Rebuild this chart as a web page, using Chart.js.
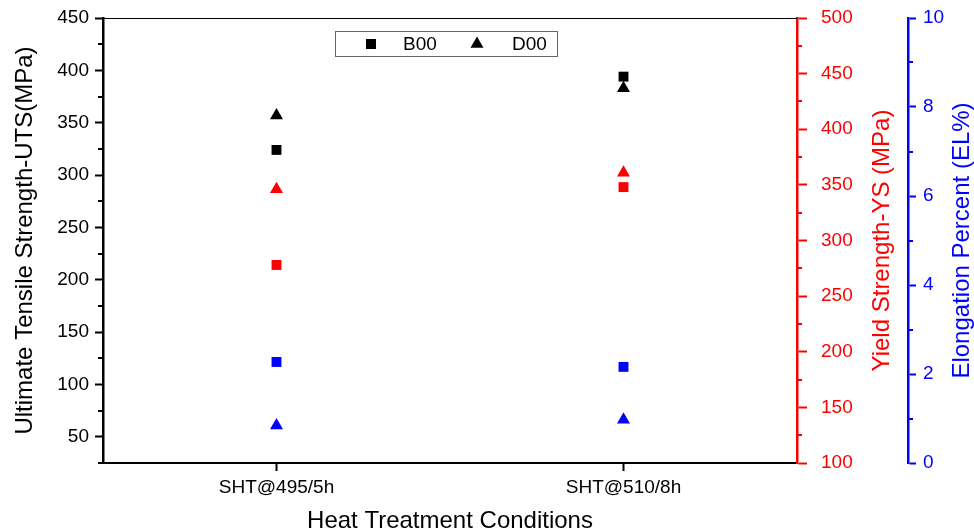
<!DOCTYPE html>
<html><head><meta charset="utf-8">
<script src="https://cdn.jsdelivr.net/npm/chart.js@4"></script>
<style>html,body{margin:0;padding:0;background:#fff}#wrap{width:974px;height:532px}</style>
</head><body><div id="wrap"><canvas id="c" width="974" height="532"></canvas></div>
<script>
const categories = ['SHT@495/5h', 'SHT@510/8h'];
const seriesNames = ['B00', 'D00'];
const utsB00 = [324, 394];
const utsD00 = [357, 383];
const ysB00 = [278, 348];
const ysD00 = [346, 361];
const elB00 = [2.27, 2.16];
const elD00 = [0.84, 0.97];
const utsTicks = [50, 100, 150, 200, 250, 300, 350, 400, 450];
const utsMinor = [25, 75, 125, 175, 225, 275, 325, 375, 425];
const ysTicks = [100, 150, 200, 250, 300, 350, 400, 450, 500];
const ysMinor = [125, 175, 225, 275, 325, 375, 425, 475];
const elTicks = [0, 2, 4, 6, 8, 10];
const elMinor = [1, 3, 5, 7, 9];
const xTitle = 'Heat Treatment Conditions';
const utsTitle = 'Ultimate Tensile Strength-UTS(MPa)';
const ysTitle = 'Yield Strength-YS (MPa)';
const elTitle = 'Elongation Percent (EL%)';

const FONT = "'Liberation Sans', Arial, sans-serif";
Chart.defaults.font.family = FONT;

function ds(label, data, axis, color, style) {
  return {
    label, data, yAxisID: axis, showLine: false,
    pointStyle: style, pointRadius: style === 'rect' ? 7 : 7.5, pointHoverRadius: style === 'rect' ? 7 : 7.5,
    pointBackgroundColor: color, pointBorderColor: color, pointBorderWidth: 0,
    backgroundColor: color, borderColor: color, clip: false
  };
}

const extras = {
  id: 'extras',
  afterDraw(chart) {
    const ctx = chart.ctx, ca = chart.chartArea, s = chart.scales;
    ctx.save();
    ctx.strokeStyle = '#000'; ctx.lineWidth = 1;
    ctx.beginPath(); ctx.moveTo(ca.left, ca.top + 0.5); ctx.lineTo(ca.right, ca.top + 0.5); ctx.stroke();
    function minor(scale, vals, color, dir) {
      ctx.strokeStyle = color; ctx.lineWidth = 2;
      const x0 = dir < 0 ? scale.right : scale.left;
      vals.forEach(v => {
        const y = Math.round(scale.getPixelForValue(v));
        ctx.beginPath(); ctx.moveTo(x0, y); ctx.lineTo(x0 + dir * 5, y); ctx.stroke();
      });
    }
    minor(s.y, utsMinor, '#000', -1);
    minor(s.y1, ysMinor, '#ff0000', 1);
    minor(s.y2, elMinor, '#0000ff', 1);
    function vtitle(text, x, color) {
      ctx.save();
      ctx.translate(x, (ca.top + ca.bottom) / 2);
      ctx.rotate(-Math.PI / 2);
      ctx.fillStyle = color; ctx.font = '24px ' + FONT;
      ctx.textAlign = 'center'; ctx.textBaseline = 'middle';
      ctx.fillText(text, 0, 0);
      ctx.restore();
    }
    vtitle(ysTitle, s.y1.left + 85, '#ff0000');
    vtitle(elTitle, s.y2.left + 54, '#0000ff');
    const lx = 335.5, ly = 31.5, lw = 222, lh = 25;
    ctx.strokeStyle = '#666'; ctx.lineWidth = 1;
    ctx.strokeRect(lx, ly, lw, lh);
    const cy = ly + lh / 2;
    ctx.fillStyle = '#000';
    ctx.fillRect(366, cy - 5, 10, 10);
    ctx.beginPath();
    const tx = 477, r = 7.5;
    ctx.moveTo(tx, cy - r); ctx.lineTo(tx + r * Math.sin(Math.PI / 3), cy + r / 2); ctx.lineTo(tx - r * Math.sin(Math.PI / 3), cy + r / 2); ctx.closePath(); ctx.fill();
    ctx.font = '19px ' + FONT; ctx.textAlign = 'left'; ctx.textBaseline = 'middle';
    ctx.fillText(seriesNames[0], 403, cy + 1);
    ctx.fillText(seriesNames[1], 512, cy + 1);
    ctx.restore();
  }
};

function fixTicks(arr) { return s => { s.ticks = arr.map(v => ({ value: v })); }; }
function fitV(w) { return s => { s.width = w; s.paddingTop = 0; s.paddingBottom = 0; }; }

new Chart(document.getElementById('c'), {
  type: 'line',
  data: {
    labels: categories,
    datasets: [
      ds('UTS ' + seriesNames[0], utsB00, 'y', '#000000', 'rect'),
      ds('UTS ' + seriesNames[1], utsD00, 'y', '#000000', 'triangle'),
      ds('YS ' + seriesNames[0], ysB00, 'y1', '#ff0000', 'rect'),
      ds('YS ' + seriesNames[1], ysD00, 'y1', '#ff0000', 'triangle'),
      ds('EL ' + seriesNames[0], elB00, 'y2', '#0000ff', 'rect'),
      ds('EL ' + seriesNames[1], elD00, 'y2', '#0000ff', 'triangle')
    ]
  },
  options: {
    responsive: false, animation: false, devicePixelRatio: 1,
    layout: { padding: { top: 18, left: 0, right: 0, bottom: 0 } },
    plugins: { legend: { display: false }, tooltip: { enabled: false } },
    scales: {
      x: {
        type: 'category', offset: true,
        grid: { display: true, drawOnChartArea: false, drawTicks: true, tickLength: 8, tickWidth: 2, tickColor: '#000', offset: false },
        border: { display: true, color: '#000', width: 2 },
        ticks: { color: '#000', font: { size: 19 }, padding: 5, maxRotation: 0, autoSkip: false },
        title: { display: true, text: xTitle, color: '#000', font: { size: 24, lineHeight: 0.9167 }, padding: { top: 0, bottom: 0 } },
        afterFit: s => { s.height = 69; s.paddingLeft = 0; s.paddingRight = 0; }
      },
      y: {
        position: 'left', min: 25, max: 450,
        afterBuildTicks: fixTicks(utsTicks),
        grid: { display: true, drawOnChartArea: false, drawTicks: true, tickLength: 8, tickWidth: 2, tickColor: '#000' },
        border: { display: true, color: '#000', width: 2.5 },
        ticks: { color: '#000', font: { size: 19 }, padding: 6 },
        title: { display: true, text: utsTitle, color: '#000', font: { size: 24, lineHeight: 1 }, padding: { top: 13, bottom: 0 } },
        afterFit: fitV(103)
      },
      y1: {
        position: 'right', min: 100, max: 500, weight: 0,
        afterBuildTicks: fixTicks(ysTicks),
        grid: { display: true, drawOnChartArea: false, drawTicks: true, tickLength: 10, tickWidth: 2, tickColor: '#ff0000' },
        border: { display: true, color: '#ff0000', width: 2.5 },
        ticks: { color: '#ff0000', font: { size: 19 }, padding: 14 },
        afterFit: fitV(111)
      },
      y2: {
        position: 'right', min: 0, max: 10, weight: 1,
        afterBuildTicks: fixTicks(elTicks),
        grid: { display: true, drawOnChartArea: false, drawTicks: true, tickLength: 8, tickWidth: 2, tickColor: '#0000ff' },
        border: { display: true, color: '#0000ff', width: 2.5 },
        ticks: { color: '#0000ff', font: { size: 19 }, padding: 7 },
        afterFit: fitV(66)
      }
    }
  },
  plugins: [extras]
});
</script></body></html>
